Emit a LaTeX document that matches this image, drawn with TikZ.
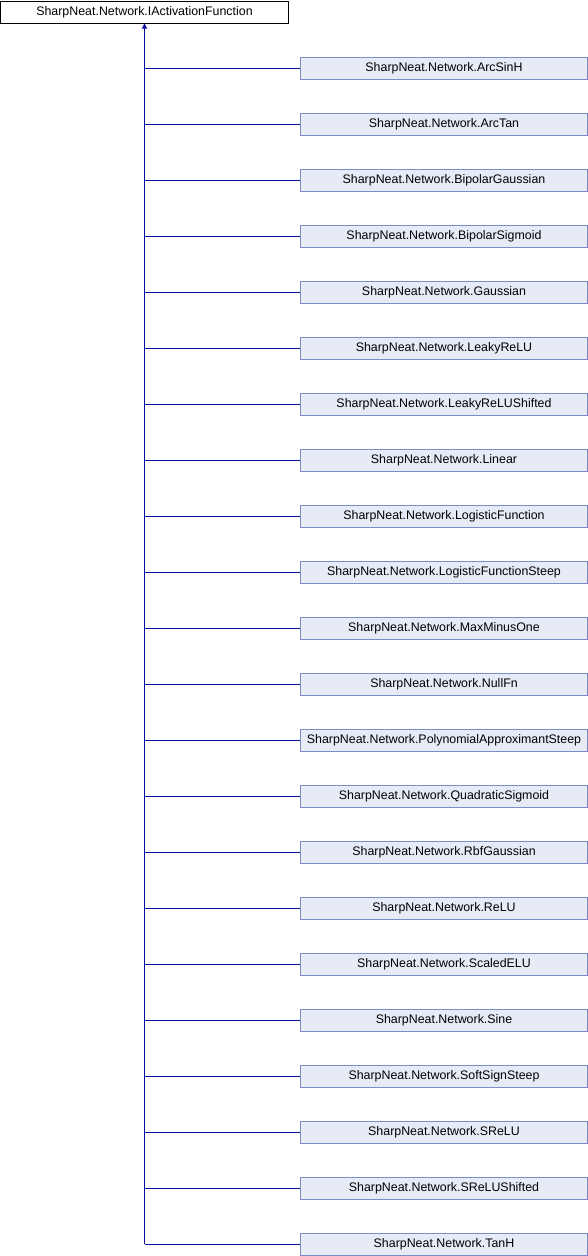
\documentclass[tikz,border=0pt]{standalone}
\usepackage{fontspec}
\setmainfont{Liberation Sans}
\usetikzlibrary{arrows.meta}
\definecolor{edgeblue}{HTML}{0C0CA0}
\definecolor{boxfill}{HTML}{E6EBF6}
\definecolor{boxline}{HTML}{7D8DC9}
\tikzset{
    base/.style={draw=black, fill=white, line width=1pt, minimum width=288pt, minimum height=22pt, inner sep=0pt, font=\fontsize{12.4}{14}\selectfont},
    child/.style={draw=boxline, fill=boxfill, line width=1pt, minimum width=287pt, minimum height=22pt, inner sep=0pt, anchor=west, font=\fontsize{12.4}{14}\selectfont},
    edge/.style={edgeblue, line width=1pt}
}
\begin{document}
\begin{tikzpicture}[x=1pt, y=-1pt]
\useasboundingbox (0,0) rectangle (588,1256);
\node[base] (iface) at (144.5,12) {SharpNeat.Network.IActivationFunction};

\node[child] (arcsinh) at (300,68) {SharpNeat.Network.ArcSinH};
\node[child] (arctan) at (300,124) {SharpNeat.Network.ArcTan};
\node[child] (bipgauss) at (300,180) {SharpNeat.Network.BipolarGaussian};
\node[child] (bipsig) at (300,236) {SharpNeat.Network.BipolarSigmoid};
\node[child] (gauss) at (300,292) {SharpNeat.Network.Gaussian};
\node[child] (leaky) at (300,348) {SharpNeat.Network.LeakyReLU};
\node[child] (leakysh) at (300,404) {SharpNeat.Network.LeakyReLUShifted};
\node[child] (linear) at (300,460) {SharpNeat.Network.Linear};
\node[child] (logistic) at (300,516) {SharpNeat.Network.LogisticFunction};
\node[child] (logsteep) at (300,572) {SharpNeat.Network.LogisticFunctionSteep};
\node[child] (maxmin) at (300,628) {SharpNeat.Network.MaxMinusOne};
\node[child] (nullfn) at (300,684) {SharpNeat.Network.NullFn};
\node[child] (polyapx) at (300,740) {SharpNeat.Network.PolynomialApproximantSteep};
\node[child] (quadsig) at (300,796) {SharpNeat.Network.QuadraticSigmoid};
\node[child] (rbf) at (300,852) {SharpNeat.Network.RbfGaussian};
\node[child] (relu) at (300,908) {SharpNeat.Network.ReLU};
\node[child] (scaled) at (300,964) {SharpNeat.Network.ScaledELU};
\node[child] (sine) at (300,1020) {SharpNeat.Network.Sine};
\node[child] (softsign) at (300,1076) {SharpNeat.Network.SoftSignSteep};
\node[child] (srelu) at (300,1132) {SharpNeat.Network.SReLU};
\node[child] (srelush) at (300,1188) {SharpNeat.Network.SReLUShifted};
\node[child] (tanh) at (300,1244) {SharpNeat.Network.TanH};

% trunk up to the interface
\coordinate (trunk end) at (iface.south |- tanh.west);
\draw[edge, -{Triangle[length=5pt, width=5pt]}] (trunk end) -- (iface.south);
\draw[edge] (iface.south |- arcsinh.west) -- (arcsinh.west);
\draw[edge] (iface.south |- arctan.west) -- (arctan.west);
\draw[edge] (iface.south |- bipgauss.west) -- (bipgauss.west);
\draw[edge] (iface.south |- bipsig.west) -- (bipsig.west);
\draw[edge] (iface.south |- gauss.west) -- (gauss.west);
\draw[edge] (iface.south |- leaky.west) -- (leaky.west);
\draw[edge] (iface.south |- leakysh.west) -- (leakysh.west);
\draw[edge] (iface.south |- linear.west) -- (linear.west);
\draw[edge] (iface.south |- logistic.west) -- (logistic.west);
\draw[edge] (iface.south |- logsteep.west) -- (logsteep.west);
\draw[edge] (iface.south |- maxmin.west) -- (maxmin.west);
\draw[edge] (iface.south |- nullfn.west) -- (nullfn.west);
\draw[edge] (iface.south |- polyapx.west) -- (polyapx.west);
\draw[edge] (iface.south |- quadsig.west) -- (quadsig.west);
\draw[edge] (iface.south |- rbf.west) -- (rbf.west);
\draw[edge] (iface.south |- relu.west) -- (relu.west);
\draw[edge] (iface.south |- scaled.west) -- (scaled.west);
\draw[edge] (iface.south |- sine.west) -- (sine.west);
\draw[edge] (iface.south |- softsign.west) -- (softsign.west);
\draw[edge] (iface.south |- srelu.west) -- (srelu.west);
\draw[edge] (iface.south |- srelush.west) -- (srelush.west);
\draw[edge] (trunk end) -- (tanh.west);
\end{tikzpicture}
\end{document}
